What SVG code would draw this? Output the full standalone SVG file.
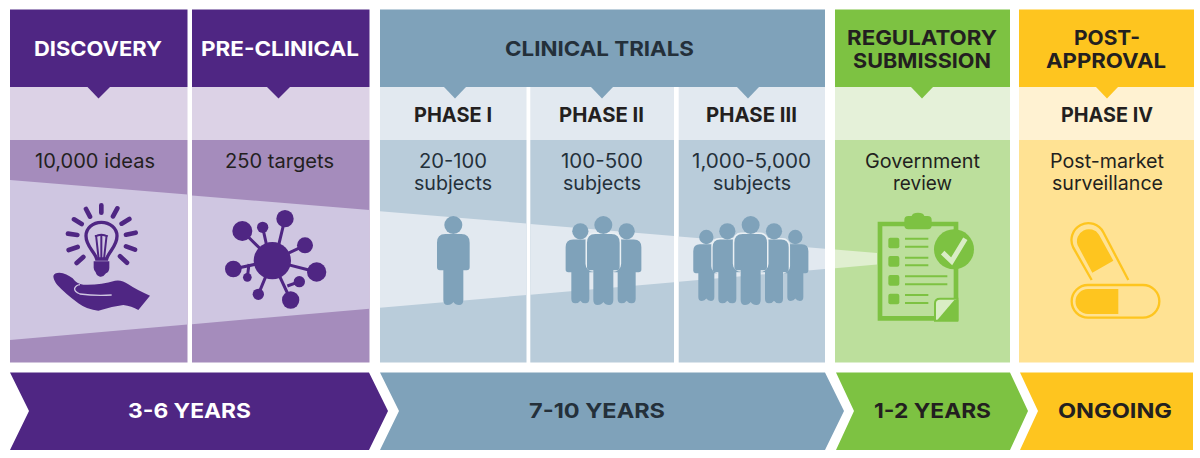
<svg xmlns="http://www.w3.org/2000/svg" width="1200" height="458" viewBox="0 0 1200 458">
<style>
text{font-family:Inter,"Noto Sans","Liberation Sans",sans-serif;fill:#231f20}
.h{font-size:20.6px;font-weight:700}
.w{fill:#fff}
.d{fill:#24303a}
.b{font-size:19.5px;font-weight:400}
.pu{fill:#4f2683}.pb{fill:#dcd2e6}.pm{fill:#a58cbc}.pw{fill:#cfc6e1}
.bl{fill:#7fa2ba}.bb{fill:#e2e9f0}.bm{fill:#b9ccda}
.gr{fill:#7dc242}.gb{fill:#e5f1d9}.gm{fill:#bcdf9c}.gw{fill:#e0efd0}
.ye{fill:#fec51f}.yb{fill:#fff2d2}.ym{fill:#ffe293}
.ray{stroke:#4f2683;stroke-width:14;stroke-linecap:round;fill:none}
.bond{stroke:#4f2683;stroke-width:9;fill:none}
.gl{stroke:#7dc242;stroke-width:6;fill:none}
.po{stroke:#fec51f;stroke-width:7;fill:none}
</style>
<defs>
<g id="person">
<circle cx="0" cy="105" r="27"/>
<path d="M-24,132H24Q49,132 49,158V232Q49,241 40,241H30V330Q30,345 17,345Q6,345 0,336Q-6,345 -17,345Q-30,345 -30,330V241H-40Q-49,241 -49,232V158Q-49,132 -24,132Z"/>
</g>
<rect id="halo" x="-49" y="132" width="98" height="109" rx="20" fill="none" stroke="#eaf0f4" stroke-width="9"/>
</defs>

<g id="discovery">
<rect class="pm" x="10" y="140" width="177.5" height="222.5"/>
<polygon class="pw" points="10,180 187.500,194.500 187.500,324.600 10,340"/>
<rect class="pb" x="10" y="87" width="177.5" height="53"/>
<rect class="pu" x="10" y="9.500" width="177.500" height="77.500"/>
<polygon class="pu" points="87.500,87 98.500,98.500 110,87"/>
<text class="h w" x="34" y="55.500" textLength="128" lengthAdjust="spacingAndGlyphs">DISCOVERY</text>
<text class="b" x="35" y="168" textLength="120" lengthAdjust="spacingAndGlyphs">10,000 ideas</text>
<g transform="translate(0,190) scale(.33333)">
<path class="ray" d="M304,46V68M258,57L270,80M352,55L339,79M222,88L245,102M388,87L365,101M204,131L232,135M407,128L378,134M206,180L233,171M405,179L378,169M230,219L250,201M381,218L360,199"/>
<path d="M290,207C285,185 258,170 258,138C258,115 278,97 304,97C330,97 351,115 351,138C351,170 325,185 320,207Z" fill="none" stroke="#4f2683" stroke-width="10"/>
<path d="M296,207L288,135M304,207V135M312,207L320,135M285,140Q304,128 323,140" fill="none" stroke="#4f2683" stroke-width="6"/>
<path class="pu" d="M281,214H328V233Q328,245 318,250Q310,262 300,260Q290,258 287,247Q281,240 281,233Z"/>
<path class="pu" d="M160,258Q163,248 178,248Q200,250 218,265Q230,282 250,284Q300,286 345,272Q365,268 385,283Q410,300 450,317L415,360Q395,348 370,345Q330,350 295,362Q262,360 235,340Q195,310 172,285Q160,270 160,258Z"/>
<path d="M335,315Q285,318 240,312Q222,305 224,295Q228,285 240,284" fill="none" stroke="#cfc6e1" stroke-width="4"/>
</g>
</g>

<g id="preclinical">
<rect class="pm" x="192" y="140" width="177.5" height="222.5"/>
<polygon class="pw" points="192,195.500 369.500,210 369.500,308.700 192,324.200"/>
<rect class="pb" x="192" y="87" width="177.5" height="53"/>
<rect class="pu" x="192" y="9.500" width="177.500" height="77.500"/>
<polygon class="pu" points="267,87 278.500,98.500 290,87"/>
<text class="h w" x="201" y="55.500" textLength="158" lengthAdjust="spacingAndGlyphs">PRE-CLINICAL</text>
<text class="b" x="225" y="168" textLength="109" lengthAdjust="spacingAndGlyphs">250 targets</text>
<g transform="translate(0,190) scale(.33333)">
<path class="bond" d="M727,123L817,212M788,112L803,180M855,86L830,190M915,166L817,212M950,246L817,212M898,275L862,288M872,330L817,212M775,313L817,212M700,237L817,212M742,262L747,222"/>
<g class="pu">
<circle cx="817" cy="212" r="56"/><circle cx="727" cy="123" r="30"/><circle cx="788" cy="112" r="17"/>
<circle cx="855" cy="86" r="26"/><circle cx="915" cy="166" r="24"/><circle cx="950" cy="246" r="29"/>
<circle cx="898" cy="275" r="17"/><circle cx="872" cy="330" r="26"/><circle cx="775" cy="313" r="17"/>
<circle cx="742" cy="262" r="13"/><circle cx="700" cy="237" r="25"/>
</g>
</g>
</g>

<g id="phase-1">
<rect class="bm" x="380" y="140" width="146.500" height="222.500"/>
<polygon class="bb" points="380,211.200 526.500,223.500 526.500,295 380,307.800"/>
<rect class="bb" x="380" y="87" width="146.500" height="53"/>
<text class="h" x="414" y="122" textLength="78" lengthAdjust="spacingAndGlyphs">PHASE I</text>
<text class="b d" x="419" y="168" textLength="68" lengthAdjust="spacingAndGlyphs">20-100</text>
<text class="b d" x="414" y="190" textLength="78" lengthAdjust="spacingAndGlyphs">subjects</text>
<g class="bl" transform="translate(400,190) scale(.33333)"><use href="#person" transform="translate(160,0)"/></g>
</g>

<g id="phase-2">
<rect class="bm" x="530.300" y="140" width="143.700" height="222.500"/>
<polygon class="bb" points="530.300,223.900 674,236 674,282.200 530.300,294.700"/>
<rect class="bb" x="530.300" y="87" width="143.700" height="53"/>
<text class="h" x="559" y="122" textLength="85" lengthAdjust="spacingAndGlyphs">PHASE II</text>
<text class="b d" x="561" y="168" textLength="82" lengthAdjust="spacingAndGlyphs">100-500</text>
<text class="b d" x="563" y="190" textLength="78" lengthAdjust="spacingAndGlyphs">subjects</text>
<g class="bl" transform="translate(400,190) scale(.33333)">
<use href="#person" transform="translate(541,340) scale(.9) translate(0,-345)"/>
<use href="#person" transform="translate(680,340) scale(.9) translate(0,-345)"/>
<use href="#halo" transform="translate(610,0)"/>
<use href="#person" transform="translate(610,0)"/>
</g>
</g>

<g id="phase-3">
<rect class="bm" x="678.700" y="140" width="146.300" height="222.500"/>
<polygon class="bb" points="678.700,236.400 825,248.700 825,269 678.700,281.800"/>
<rect class="bb" x="678.700" y="87" width="146.300" height="53"/>
<text class="h" x="706" y="122" textLength="91" lengthAdjust="spacingAndGlyphs">PHASE III</text>
<text class="b d" x="692" y="168" textLength="119" lengthAdjust="spacingAndGlyphs">1,000-5,000</text>
<text class="b d" x="713" y="190" textLength="78" lengthAdjust="spacingAndGlyphs">subjects</text>
<g class="bl" transform="translate(400,190) scale(.33333)">
<use href="#person" transform="translate(919,333) scale(.8) translate(0,-345)"/>
<use href="#person" transform="translate(1186,333) scale(.8) translate(0,-345)"/>
<use href="#halo" transform="translate(982,340) scale(.9) translate(0,-345)"/>
<use href="#halo" transform="translate(1122,340) scale(.9) translate(0,-345)"/>
<use href="#person" transform="translate(982,340) scale(.9) translate(0,-345)"/>
<use href="#person" transform="translate(1122,340) scale(.9) translate(0,-345)"/>
<use href="#halo" transform="translate(1052,0)"/>
<use href="#person" transform="translate(1052,0)"/>
</g>
</g>

<g id="clinical-trials">
<rect class="bl" x="380" y="9.500" width="445" height="77.500"/>
<polygon class="bl" points="444,87 455,98.500 466,87"/>
<polygon class="bl" points="591,87 602,98.500 613,87"/>
<polygon class="bl" points="737,87 748,98.500 759,87"/>
<text class="h d" x="505" y="55.500" textLength="189" lengthAdjust="spacingAndGlyphs">CLINICAL TRIALS</text>
</g>

<g id="regulatory">
<rect class="gm" x="835" y="140" width="175" height="222.500"/>
<polygon class="gw" points="835,249.500 877,253 877,264.500 835,268.200"/>
<rect class="gb" x="835" y="87" width="175" height="53"/>
<rect class="gr" x="835" y="9.500" width="175" height="77.500"/>
<polygon class="gr" points="911,87 922,98.500 933,87"/>
<text class="h" x="847" y="45" textLength="150" lengthAdjust="spacingAndGlyphs">REGULATORY</text>
<text class="h" x="853" y="68" textLength="138" lengthAdjust="spacingAndGlyphs">SUBMISSION</text>
<text class="b" x="865" y="168" textLength="115" lengthAdjust="spacingAndGlyphs">Government</text>
<text class="b" x="893" y="190" textLength="59" lengthAdjust="spacingAndGlyphs">review</text>
<g transform="translate(820,190) scale(.33333)">
<path d="M345,385H180V102H408V385H345" fill="none" stroke="#7dc242" stroke-width="14"/>
<rect class="gr" x="253" y="78" width="82" height="40" rx="12"/>
<path class="gr" d="M275,78Q278,68 294,68Q310,68 313,78Z"/>
<g class="gr">
<rect x="205" y="143" width="33" height="32" rx="6"/><rect x="205" y="198" width="33" height="32" rx="6"/>
<rect x="205" y="255" width="33" height="32" rx="6"/><rect x="205" y="311" width="33" height="32" rx="6"/>
</g>
<path class="gl" d="M255,146H325M255,170H325M255,203H325M255,226H325M255,259H382M255,283H382M255,315H325M255,339H325"/>
<circle class="gr" cx="402" cy="178" r="60"/>
<path d="M368,188L395,214L436,146" fill="none" stroke="#d9edc5" stroke-width="15"/>
<path d="M345,392V340Q345,326 360,326H412V392Z" fill="#d9edc5" stroke="#7dc242" stroke-width="6"/>
<polygon class="gr" points="352,390 403,330 415,330 415,392"/>
</g>
</g>

<g id="post-approval">
<rect class="ym" x="1019" y="140" width="175" height="222.500"/>
<rect class="yb" x="1019" y="87" width="175" height="53"/>
<rect class="ye" x="1019" y="9.500" width="175" height="77.500"/>
<polygon class="ye" points="1096,87 1107,98.500 1118,87"/>
<text class="h" x="1074" y="45" textLength="66" lengthAdjust="spacingAndGlyphs">POST-</text>
<text class="h" x="1046" y="68" textLength="120" lengthAdjust="spacingAndGlyphs">APPROVAL</text>
<text class="h" x="1061" y="122" textLength="92" lengthAdjust="spacingAndGlyphs">PHASE IV</text>
<text class="b" x="1050" y="168" textLength="114" lengthAdjust="spacingAndGlyphs">Post-market</text>
<text class="b" x="1052" y="190" textLength="111" lengthAdjust="spacingAndGlyphs">surveillance</text>
<g transform="translate(820,190) scale(.33333)">
<path class="po" d="M815,270L760,173A50,50 0 0 1 850,127L925,270"/>
<path class="ye" d="M773,166A36,36 0 0 1 837,134L880,212L817,248Z"/>
<rect class="po" x="755" y="285" width="263" height="98" rx="49"/>
<path class="ye" d="M895,297H804A37.500,37.500 0 0 0 804,372H895Z"/>
</g>
</g>

<g id="timeline">
<polygon class="pu" points="10,372.500 369,372.500 388,411 369,450 10,450 29,411"/>
<polygon class="bl" points="380,372.500 825,372.500 844,411 825,450 380,450 399,411"/>
<polygon class="gr" points="836,372.500 1010,372.500 1028,411 1010,450 836,450 854,411"/>
<polygon class="ye" points="1020,372.500 1193,372.500 1193,450 1020,450 1038,411"/>
<text class="h w" x="128" y="417.500" textLength="123" lengthAdjust="spacingAndGlyphs">3-6 YEARS</text>
<text class="h d" x="529" y="417.500" textLength="136" lengthAdjust="spacingAndGlyphs">7-10 YEARS</text>
<text class="h" x="874" y="417.500" textLength="117" lengthAdjust="spacingAndGlyphs">1-2 YEARS</text>
<text class="h" x="1058" y="417.500" textLength="114" lengthAdjust="spacingAndGlyphs">ONGOING</text>
</g>
</svg>
